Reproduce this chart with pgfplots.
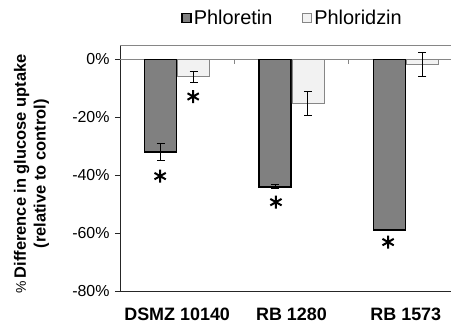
\documentclass[border=0pt]{standalone}
\usepackage{pgfplots}
\pgfplotsset{compat=1.18}
\usepackage{fontspec}
\setmainfont{Liberation Sans}
\definecolor{darkbar}{HTML}{808080}
\definecolor{lightbar}{HTML}{F2F2F2}
\definecolor{gridgray}{HTML}{868686}
\begin{document}
\begin{tikzpicture}
\useasboundingbox (-120bp,-38bp) rectangle (331bp,291bp);
\begin{axis}[
  at={(0,0)}, anchor=south west,
  scale only axis, width=343bp, height=246bp,
  xmin=-0.5, xmax=2.5, ymin=-80, ymax=5,
  enlargelimits=false,
  axis x line*=bottom, axis y line*=left,
  axis line style={black!85, line width=0.8bp},
  xtick={0,1,2}, xticklabels={DSMZ 10140, RB 1280, RB 1573},
  x tick style={draw=none},
  xticklabel style={font=\bfseries\fontsize{18}{20}\selectfont, yshift=-8bp},
  ytick={-80,-60,-40,-20,0},
  yticklabel={\pgfmathprintnumber{\tick}\%},
  /pgf/number format/assume math mode=true,
  yticklabel style={font=\fontsize{16}{18}\selectfont, xshift=-2bp},
  y tick style={black!85, line width=0.8bp},
  tick align=outside, major tick length=5bp,
  ylabel={{\mdseries\fontsize{14}{20}\selectfont\%}\,Difference in glucose uptake\\(relative to control)},
  ylabel style={at={(rel axis cs:0,0.476)}, anchor=center, rotate=0, yshift=88.5bp,
     align=center, font=\bfseries\fontsize{16.5}{20}\selectfont},
  legend style={at={(axis description cs:0.5,1)}, anchor=center, yshift=27bp, xshift=1bp,
     draw=none, fill=none, font=\fontsize{20}{22}\selectfont,
     legend columns=2, /tikz/every even column/.append style={column sep=28bp},
     legend cell align=left},
  legend image code/.code={\draw[#1] (4bp,-4.5bp) rectangle (13bp,4.5bp);},
]
\draw[gridgray, line width=0.8bp] (rel axis cs:0,1) -- (rel axis cs:1,1);
\draw[gridgray, line width=0.8bp] (axis cs:-0.5,0) -- (axis cs:2.5,0);
\draw[gridgray, line width=0.8bp] (axis cs:0.5,0) -- ([yshift=-5bp]axis cs:0.5,0);
\draw[gridgray, line width=0.8bp] (axis cs:1.5,0) -- ([yshift=-5bp]axis cs:1.5,0);
\addplot[ybar, bar width=32bp, bar shift=0pt, fill=darkbar, draw=black, line width=1.6bp,
   error bars/.cd, y dir=both, y explicit,
   error bar style={black, line width=1bp},
   error mark options={rotate=90, mark size=4bp, black, line width=1bp}]
  table[x=x, y=y, y error=e] {
x y e
-0.1443 -32 3
0.8557 -44 0.7
1.8557 -59 0
};
\addlegendentry{Phloretin}
\addplot[ybar, bar width=32bp, bar shift=0pt, fill=lightbar, draw=gridgray, line width=0.8bp,
   error bars/.cd, y dir=both, y explicit,
   error bar style={black, line width=1bp},
   error mark options={rotate=90, mark size=4bp, black, line width=1bp}]
  table[x=x, y=y, y error=e] {
x y e
0.1443 -6 2
1.1443 -15.2 4
2.1443 -1.8 4.2
};
\addlegendentry{Phloridzin}
\addplot[only marks, mark=asterisk, mark size=6.5bp, black, line width=2bp, forget plot]
  coordinates {(-0.149,-40.3) (0.14,-12.8) (0.864,-49.3) (1.845,-63.1)};
\end{axis}
\end{tikzpicture}
\end{document}
